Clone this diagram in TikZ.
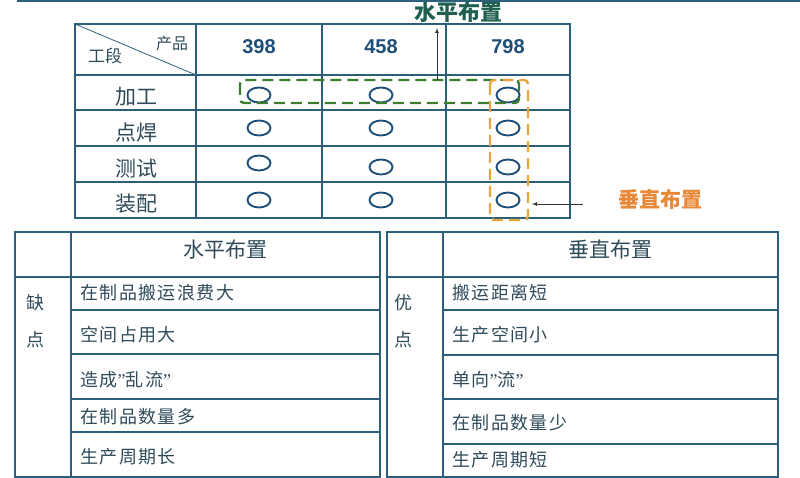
\documentclass[tikz,border=0pt]{standalone}
\usepackage{fontspec}
\setmainfont{Liberation Sans}
\newfontfamily\cjk{Noto Sans CJK SC}
\newfontfamily\cjkrow[LetterSpace=8]{Noto Sans CJK SC}
\newfontfamily\lat{Liberation Serif}
\usepackage{tikz}
\usetikzlibrary{positioning}
\usetikzlibrary{%
  shapes.geometric,%
  calc,%
  arrows%
}
\definecolor{gridc}{HTML}{2C5F7C}
\definecolor{numc}{HTML}{1F4E79}
\definecolor{txtc}{HTML}{2F4B5A}
\definecolor{greenc}{HTML}{3A7D2C}
\definecolor{orangec}{HTML}{E8A53A}
\definecolor{hlabc}{HTML}{1F6050}
\definecolor{vlabc}{HTML}{E8893A}
\newcommand{\cn}[1]{\fontsize{#1}{#1}\selectfont\cjk}
\newcommand{\qt}{{\lat ”}}

\begin{document}
\begin{tikzpicture}[x=1pt, y=-1pt, every node/.style={inner sep=0pt},
  gridline/.style={draw=gridc, line width=1.4pt},
  frame/.style={draw=gridc, line width=2.4pt},
  stage/.style={font=\cn{21}, text=txtc},
  num/.style={font=\fontsize{20}{20}\selectfont\bfseries, text=numc},
  dot/.style={ellipse, draw=numc, line width=1.9pt, minimum width=23pt, minimum height=15pt},
  row/.style={font=\fontsize{18}{18}\selectfont\cjkrow, text=txtc, anchor=west},
  side/.style={font=\cn{18}, text=txtc},
  head/.style={font=\cn{21}, text=txtc},
  layout/.style={line width=2.4pt, dash pattern=on 11pt off 6pt, rounded corners=4pt}]
\useasboundingbox (0,0) rectangle (800,478);
\draw[gridc, line width=1.5pt] (17,0.8) -- (800,0.8);

\draw[gridline] (75,24) rectangle (570,218);
\draw[gridline] (196,24) -- (196,218) (322,24) -- (322,218) (446,24) -- (446,218);
\draw[gridline] (75,75) -- (570,75) (75,110) -- (570,110) (75,146) -- (570,146) (75,182) -- (570,182);
\draw[gridc, line width=0.8pt] (75,24) -- (196,75);

\node[font=\cn{16}, text=txtc] (prod) at (172,43) {产品};
\node[font=\cn{17}, text=txtc] (sect) at (105,56) {工段};
\node[num] (p398) at (259,47) {398};
\node[num] (p458) at (381,47) {458};
\node[num] (p798) at (508,47) {798};

\node[stage] (s1) at (136,97) {加工};
\node[stage] (s2) at (136,133) {点焊};
\node[stage] (s3) at (136,169) {测试};
\node[stage] (s4) at (136,204) {装配};

\node[dot] (e11) at (259,95) {};
\node[dot] (e12) at (381,95) {};
\node[dot] (e13) at (508,95) {};
\node[dot] (e21) at (259,128) {};
\node[dot] (e22) at (381,128) {};
\node[dot] (e23) at (508,128) {};
\node[dot] (e31) at (259,163) {};
\node[dot] (e32) at (381,167) {};
\node[dot] (e33) at (508,167) {};
\node[dot] (e41) at (259,200) {};
\node[dot] (e42) at (381,200) {};
\node[dot] (e43) at (508,200) {};

\draw[layout, greenc] (240,80) rectangle (519,103);
\draw[layout, orangec] (490,80) rectangle (528,220);

\node[font=\cn{22}\bfseries, text=hlabc] (hlab) at (458,12) {水平布置};
\node[font=\cn{21}\bfseries, text=vlabc] (vlab) at (660,199) {垂直布置};
\coordinate (gtop) at (437,80);
\coordinate (htip) at (437,28);
\coordinate (vtail) at (583,204);
\coordinate (vtip) at (532,204);

\draw[black!80, line width=0.7pt]
	(gtop) edge[-latex] (htip)
	(vtail) edge[-latex] (vtip)
;

\draw[frame] (15,232) rectangle (380,477);
\draw[gridline] (71,232) -- (71,477) (15,277) -- (380,277);
\draw[gridline] (71,310) -- (380,310) (71,354) -- (380,354) (71,399) -- (380,399) (71,432) -- (380,432);
\node[head] (hh) at (225,250) {水平布置};
\node[side] (bad1) at (35,303) {缺};
\node[side] (bad2) at (35,340) {点};
\node[row] (h1) at (80,293) {在制品搬运浪费大};
\node[row] (h2) at (80,335) {空间占用大};
\node[row] (h3) at (80,380) {造成\qt 乱流\qt};
\node[row] (h4) at (80,417) {在制品数量多};
\node[row] (h5) at (80,457) {生产周期长};

\draw[frame] (387,232) rectangle (778,477);
\draw[gridline] (443,232) -- (443,477) (387,277) -- (778,277);
\draw[gridline] (443,310) -- (778,310) (443,355) -- (778,355) (443,399) -- (778,399) (443,444) -- (778,444);
\node[head] (vh) at (610,250) {垂直布置};
\node[side] (good1) at (403,303) {优};
\node[side] (good2) at (403,340) {点};
\node[row] (v1) at (452,293) {搬运距离短};
\node[row] (v2) at (452,335) {生产空间小};
\node[row] (v3) at (452,380) {单向\qt 流\qt};
\node[row] (v4) at (452,423) {在制品数量少};
\node[row] (v5) at (452,460) {生产周期短};
\end{tikzpicture}
\end{document}
